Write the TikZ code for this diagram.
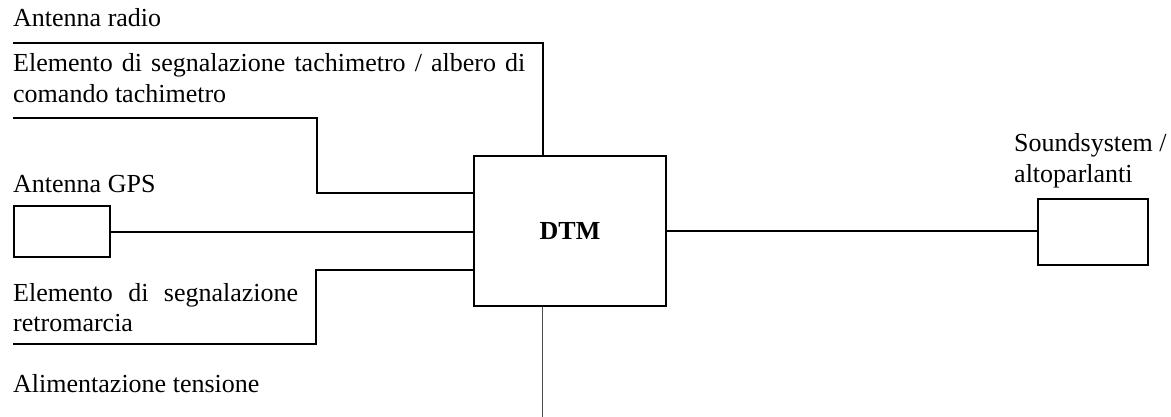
\documentclass[tikz,border=0pt]{standalone}
\usepackage{fontspec}
\setmainfont{Liberation Serif}
% two lines of text whose baseline is the first line's baseline
\newcommand{\stackedlines}[2]{\vtop{\hbox{#1}\hbox{#2}}}
\begin{document}
\begin{tikzpicture}[x=1pt,y=-1pt,
  every node/.style={font=\fontsize{26}{31}\selectfont},
  label text/.style={inner sep=0pt,anchor=base west},
  unit/.style={draw,line width=2pt,inner sep=0pt},
  wire/.style={line width=2pt},
  feed/.style={line width=1pt,black!70}]
\useasboundingbox (0,0) rectangle (1171,417);

% boxes
\node[unit,minimum width=192pt,minimum height=150pt,
      font=\fontsize{26}{31}\selectfont\bfseries] (dtm) at (570,231) {DTM};
\node[unit,minimum width=96pt,minimum height=51pt] (gps) at (62,231.5) {};
\node[unit,minimum width=110pt,minimum height=66pt] (spk) at (1093,232) {};

% labels
\node[label text] (lradio) at (13,27) {Antenna radio};
\node[label text] (ltacho) at (13,72)
  {\stackedlines{\hbox to 512pt{Elemento di segnalazione tachimetro / albero di}}{comando tachimetro}};
\node[label text] (lgps) at (13,193) {Antenna GPS};
\node[label text] (lrev) at (13,301)
  {\stackedlines{\hbox to 285pt{Elemento\hfill di\hfill segnalazione}}{retromarcia}};
\node[label text] (lpow) at (13,392) {Alimentazione tensione};
\node[label text] (lspk) at (1014,152) {\stackedlines{Soundsystem /}{altoparlanti}};

% wire ends and bends
\coordinate (r0) at (13,43);
\coordinate (t0) at (13,118);
\coordinate (tb) at (317,193);
\coordinate (q0) at (13,344);
\coordinate (qb) at (316,270);
\coordinate (p0) at (542.5,417);

% wires
\draw[wire] (r0) -| ([xshift=-27.5pt]dtm.north);
\draw[wire] (t0) -| (tb) -- (tb -| dtm.west);
\draw[wire] (gps.east) -- (gps.east -| dtm.west);
\draw[wire] (q0) -| (qb) -- (qb -| dtm.west);
\draw[wire] (dtm.east) -- (dtm.east -| spk.west);
\draw[feed] ([xshift=-27.5pt]dtm.south) -- (p0);
\end{tikzpicture}
\end{document}
